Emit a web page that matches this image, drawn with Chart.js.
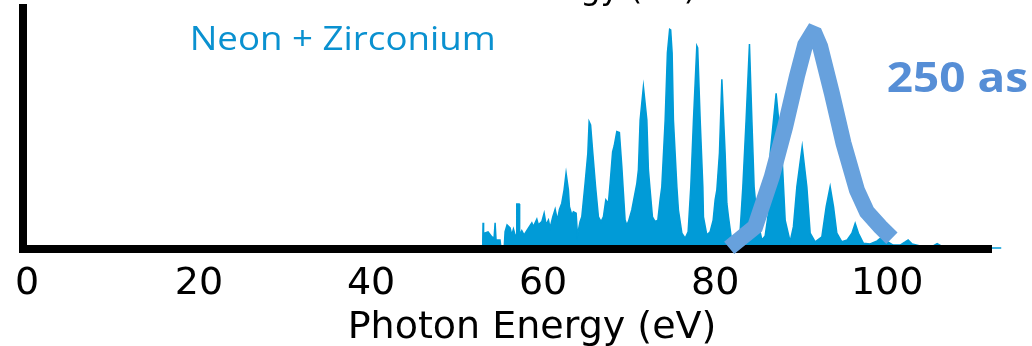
<!DOCTYPE html>
<html>
<head>
<meta charset="utf-8">
<script src="https://cdn.jsdelivr.net/npm/chart.js@4.4.1/dist/chart.umd.min.js"></script>
<style>
  html, body { margin: 0; padding: 0; background: #ffffff; }
  canvas { display: block; }
</style>
</head>
<body>
<canvas id="chart" width="1032" height="346"></canvas>
<script>
// Harmonic spectrum: photon energy (eV) and normalised intensity
const photonEnergy = [
  52.67, 52.97, 53.02, 53.08, 53.26, 53.60, 54.03, 54.30, 54.42, 54.53,
  54.99, 55.12, 55.47, 55.58, 55.81, 56.16, 56.36, 56.55, 56.74, 56.88,
  56.94, 57.21, 57.27, 57.52, 57.79, 58.29, 58.69, 58.87, 59.27, 59.45,
  59.85, 60.12, 60.35, 60.62, 60.81, 61.13, 61.40, 61.66, 61.90, 62.17,
  62.44, 62.67, 62.94, 63.06, 63.34, 63.52, 63.84, 63.99, 64.30, 64.50,
  64.88, 65.20, 65.35, 65.52, 65.78, 66.10, 66.43, 66.74, 67.01, 67.29,
  67.59, 67.79, 68.08, 68.26, 68.57, 68.87, 69.15, 69.34, 69.53, 69.73,
  69.92, 70.31, 70.90, 71.08, 71.28, 71.66, 72.06, 72.24, 72.44, 72.71,
  73.02, 73.34, 73.60, 73.80, 74.19, 74.45, 74.71, 74.83, 75.00, 75.15,
  75.55, 75.73, 76.13, 76.51, 76.86, 77.17, 77.48, 77.87, 77.97, 78.26,
  78.57, 78.64, 79.03, 79.42, 79.77, 80.00, 80.20, 80.50, 80.78, 81.16,
  81.36, 81.55, 81.94, 82.44, 82.91, 83.22, 83.60, 83.99, 84.27, 84.53,
  84.85, 85.43, 85.81, 86.16, 86.40, 87.09, 87.76, 88.14, 88.72, 89.10,
  89.50, 90.12, 90.66, 91.05, 91.63, 92.41, 92.91, 93.37, 93.76, 94.15,
  94.73, 95.35, 95.90, 96.28, 96.66, 97.24, 98.02, 98.84, 99.42, 99.88,
  100.70, 101.51, 102.09, 102.44, 102.91, 103.84, 105.35, 105.81, 106.28, 107.33,
  111.97, 113.26
];
const spectrumIntensity = [
  0, 0, 0.120, 0.073, 0.073, 0.078, 0.056, 0.050, 0.120, 0.041,
  0.041, 0, 0, 0.079, 0.110, 0.096, 0.064, 0.091, 0.064, 0.064,
  0.205, 0.205, 0.064, 0.084, 0.064, 0.095, 0.119, 0.102, 0.136, 0.110,
  0.125, 0.163, 0.110, 0.132, 0.096, 0.147, 0.181, 0.132, 0.181, 0.209,
  0.270, 0.346, 0.270, 0.193, 0.155, 0.170, 0.163, 0.064, 0.125, 0.147,
  0.300, 0.437, 0.581, 0.566, 0.437, 0.284, 0.147, 0.125, 0.147, 0.224,
  0.209, 0.300, 0.443, 0.470, 0.536, 0.532, 0.376, 0.254, 0.132, 0.110,
  0.125, 0.178, 0.300, 0.361, 0.589, 0.741, 0.589, 0.361, 0.269, 0.147,
  0.125, 0.132, 0.224, 0.284, 0.589, 0.895, 1.003, 1.000, 0.895, 0.589,
  0.284, 0.178, 0.072, 0.049, 0.078, 0.284, 0.589, 0.927, 0.918, 0.589,
  0.284, 0.147, 0.064, 0.079, 0.132, 0.224, 0.270, 0.437, 0.775, 0.437,
  0.209, 0.147, 0.033, 0.037, 0.087, 0.284, 0.589, 0.936, 0.589, 0.284,
  0.147, 0.041, 0.059, 0.155, 0.437, 0.711, 0.437, 0.132, 0.033, 0.102,
  0.284, 0.467, 0.284, 0.072, 0.033, 0.056, 0.193, 0.284, 0.193, 0.072,
  0.033, 0.041, 0.072, 0.117, 0.072, 0.026, 0.023, 0.037, 0.056, 0.037,
  0.018, 0.018, 0.032, 0.041, 0.023, 0.014, 0.014, 0.025, 0.014, 0.009,
  0.005, 0.005
];

// Isolated attosecond pulse envelope
const pulseEnergy = [81.63, 84.65, 86.59, 88.14, 89.50, 90.47, 91.30, 91.60, 92.21, 93.57, 94.92, 96.48, 97.64, 99.19, 100.55];
const pulseIntensity = [0.005, 0.102, 0.330, 0.558, 0.787, 0.932, 0.985, 0.980, 0.924, 0.711, 0.483, 0.269, 0.170, 0.102, 0.049];

const energyTicks = [0, 20, 40, 60, 80, 100];
const axisTitle = 'Photon Energy (eV)';
const sampleLabel = 'Neon + Zirconium';
const pulseLabel = '250 as';

const toPoints = (xs, ys) => xs.map((x, i) => ({ x: x, y: ys[i] }));

// Draws one line of text fitted to span [left, right] with the given cap height above the baseline
function drawFittedText(ctx, text, font, color, left, right, baseline, capHeight) {
  ctx.save();
  ctx.font = font;
  ctx.fillStyle = color;
  ctx.textAlign = 'left';
  ctx.textBaseline = 'alphabetic';
  const m = ctx.measureText(text);
  const cap = ctx.measureText(text.charAt(0)).actualBoundingBoxAscent;
  const ink = m.actualBoundingBoxLeft + m.actualBoundingBoxRight;
  const sx = (right - left) / ink;
  const sy = capHeight / cap;
  ctx.translate(left, baseline);
  ctx.scale(sx, sy);
  ctx.fillText(text, m.actualBoundingBoxLeft, 0);
  ctx.restore();
}

const overlayPlugin = {
  id: 'overlay',
  beforeDatasetDraw(chart, args) {
    // axis line sits above the spectrum but beneath the pulse envelope
    if (args.index === 1) {
      const sx = chart.scales.x;
      if (typeof sx.drawBorder === 'function') sx.drawBorder();
    }
  },
  afterDraw(chart) {
    const ctx = chart.ctx;
    ctx.save();
    ctx.fillStyle = '#000000';
    ctx.textAlign = 'center';
    ctx.textBaseline = 'alphabetic';
    ctx.font = '38px "DejaVu Sans"';
    ctx.fillText(axisTitle, 532, 338);
    ctx.font = '32px "DejaVu Sans"';
    ctx.fillText(axisTitle, 541, -1);
    ctx.restore();
    drawFittedText(ctx, sampleLabel, '33px "Open Sans"', '#0a91d0', 193, 493, 50, 23.3);
    drawFittedText(ctx, pulseLabel, 'bold 40px "Open Sans"', '#568ed6', 888, 1027, 92, 28.5);
  }
};

new Chart(document.getElementById('chart'), {
  type: 'line',
  data: {
    datasets: [
      {
        data: toPoints(photonEnergy, spectrumIntensity),
        borderColor: '#019bd7',
        backgroundColor: '#019bd7',
        borderWidth: 1.5,
        fill: 'origin',
        pointRadius: 0,
        tension: 0,
        clip: false,
        order: 1
      },
      {
        data: toPoints(pulseEnergy, pulseIntensity),
        borderColor: '#67a1dd',
        borderWidth: 16,
        borderCapStyle: 'butt',
        borderJoinStyle: 'miter',
        fill: false,
        pointRadius: 0,
        tension: 0,
        clip: false,
        order: 0
      }
    ]
  },
  options: {
    responsive: false,
    animation: false,
    devicePixelRatio: 1,
    layout: { padding: { top: 8, right: 41, left: 0, bottom: 0 } },
    plugins: { legend: { display: false }, tooltip: { enabled: false }, title: { display: false } },
    scales: {
      x: {
        type: 'linear',
        min: -0.465,
        max: 112.07,
        afterBuildTicks: (s) => { s.ticks = energyTicks.map(v => ({ value: v })); },
        afterFit: (s) => { s.height = 97; },
        grid: { display: false, drawTicks: false },
        border: { display: true, color: '#000000', width: 8 },
        ticks: {
          autoSkip: false,
          maxRotation: 0,
          padding: 12,
          color: '#000000',
          font: { family: 'DejaVu Sans', size: 38 },
          callback: (v) => String(v)
        }
      },
      y: {
        type: 'linear',
        min: 0,
        max: 1.1,
        afterFit: (s) => { s.width = 23; },
        grid: { display: false, drawTicks: false },
        border: { display: true, color: '#000000', width: 8 },
        ticks: { display: false }
      }
    }
  },
  plugins: [overlayPlugin]
});
</script>
</body>
</html>
